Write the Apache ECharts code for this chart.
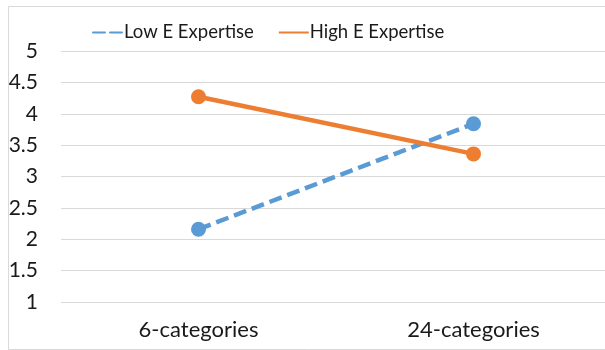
<!DOCTYPE html>
<html>
<head>
<meta charset="utf-8">
<script src="https://cdn.jsdelivr.net/npm/echarts@6/dist/echarts.min.js"></script>
<style>
  html, body { margin: 0; padding: 0; background: #fff; }
  #chart { width: 605px; height: 350px; }
</style>
</head>
<body>
<div id="chart"></div>
<script>
// Category labels along the x axis
const categories = ['6-categories', '24-categories'];
// Mean ratings per expertise group
const lowExpertise = [2.16, 3.84];
const highExpertise = [4.27, 3.36];
const seriesNames = ['Low E Expertise', 'High E Expertise'];
// Value axis range
const yMin = 1, yMax = 5, yStep = 0.5;

const FONT = 'Lato, "Open Sans", sans-serif';
const TEXT = '#1a1a1a';

const chart = echarts.init(document.getElementById('chart'));
chart.setOption({
  animation: false,
  backgroundColor: '#fff',
  graphic: [{
    type: 'rect',
    left: 6, top: 4,
    shape: { width: 640, height: 343 },
    style: { fill: 'none', stroke: '#d9d9d9', lineWidth: 1 },
    silent: true
  }],
  legend: {
    left: 87, top: 18,
    itemWidth: 30, itemHeight: 14, itemGap: 24,
    itemStyle: { opacity: 0 },
    textStyle: { fontFamily: FONT, fontSize: 18.5, color: TEXT, padding: [0, 0, 0, -4] },
    data: [
      { name: seriesNames[0], lineStyle: { type: [12, 5], cap: 'round' } },
      { name: seriesNames[1] }
    ]
  },
  grid: { left: 61, top: 51, width: 550, height: 251, outerBoundsMode: 'none', containLabel: false },
  xAxis: {
    type: 'category',
    data: categories,
    boundaryGap: true,
    axisLine: { show: false },
    axisTick: { show: false },
    axisLabel: { fontFamily: FONT, fontSize: 22, color: TEXT, margin: 17 }
  },
  yAxis: {
    type: 'value',
    min: yMin, max: yMax, interval: yStep,
    axisLine: { show: false },
    axisTick: { show: false },
    splitLine: { lineStyle: { color: '#d9d9d9', width: 1 } },
    axisLabel: { fontFamily: FONT, fontSize: 21, color: TEXT, margin: 23 }
  },
  series: [
    {
      name: seriesNames[0],
      type: 'line',
      data: lowExpertise,
      symbol: 'circle',
      symbolSize: 15,
      color: '#5b9bd5',
      itemStyle: { color: '#5b9bd5' },
      lineStyle: { color: '#5b9bd5', width: 4.5, type: [13, 6] }
    },
    {
      name: seriesNames[1],
      type: 'line',
      data: highExpertise,
      symbol: 'circle',
      symbolSize: 15,
      color: '#ed7d31',
      itemStyle: { color: '#ed7d31' },
      lineStyle: { color: '#ed7d31', width: 4.5 }
    }
  ]
});
</script>
</body>
</html>
